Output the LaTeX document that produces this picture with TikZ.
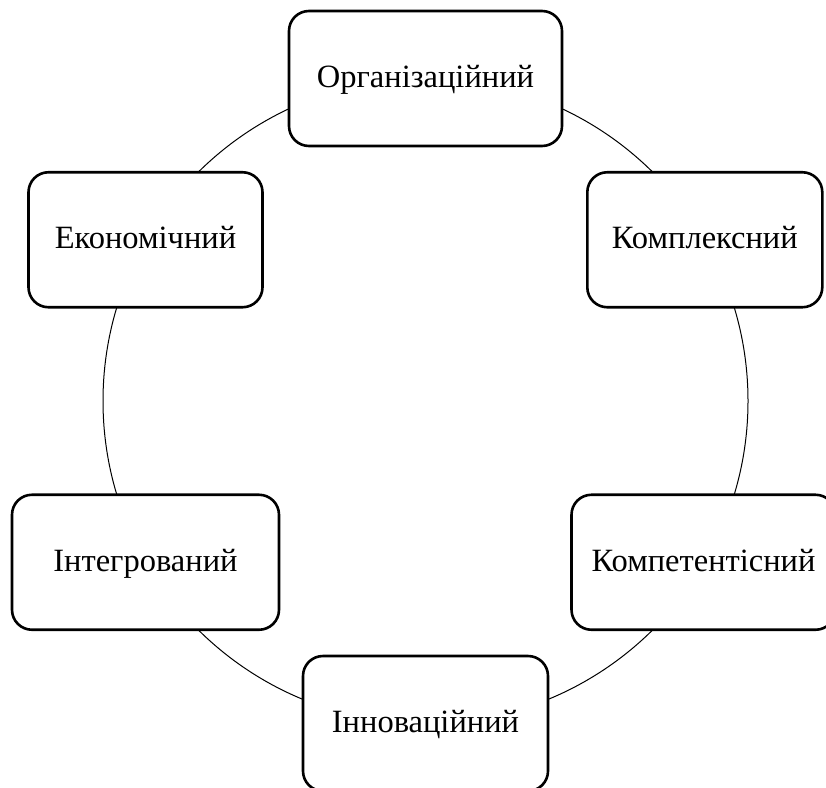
\documentclass[tikz,border=0pt]{standalone}
\usepackage{fontspec}
\setmainfont{Liberation Serif}
\begin{document}
\begin{tikzpicture}[x=1pt,y=-1pt,
  box/.style={draw=black, line width=2.6pt, rounded corners=20pt, fill=white,
    minimum height=135pt, inner xsep=0pt, text height=23pt, text depth=5pt,
    font=\fontsize{32.5}{38}\selectfont},
  ring/.style={draw=black, line width=1pt}]
\useasboundingbox (0,0) rectangle (826,787);
\clip (0,0) rectangle (826,787);
\fill[white] (0,0) rectangle (826,787);
\coordinate (c) at (425.5,401);
\draw[ring] (c) circle (322.5pt);
\node[box, minimum width=273pt] (org) at (425.5,78.5) {Організаційний};
\node[box, minimum width=235pt] (kompl) at (704.8,239.75) {Комплексний};
\node[box, minimum width=264pt] (kompet) at (703.5,562.25) {Компетентісний};
\node[box, minimum width=245pt] (inn) at (425.5,723.5) {Інноваційний};
\node[box, minimum width=267pt] (integ) at (145.5,562.25) {Інтегрований};
\node[box, minimum width=234pt] (ekon) at (145.5,239.75) {Економічний};
\end{tikzpicture}
\end{document}
